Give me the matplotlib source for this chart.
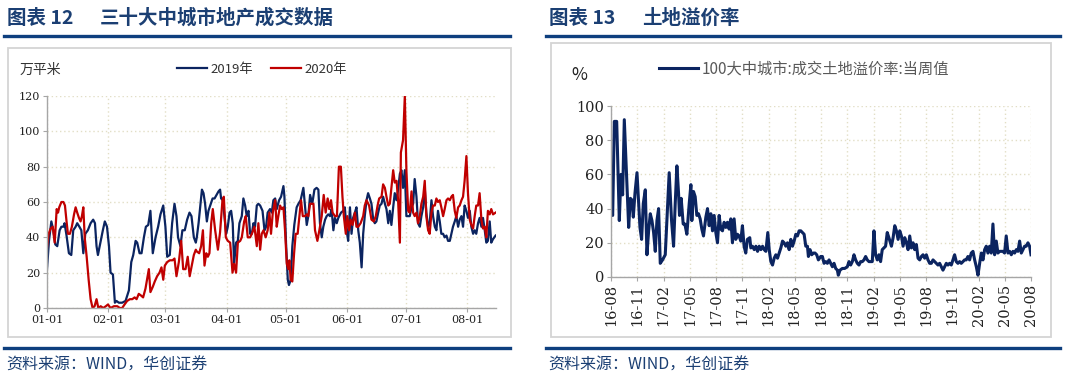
import matplotlib
matplotlib.use("Agg")
import matplotlib.pyplot as plt
from matplotlib.patches import Rectangle
from matplotlib.lines import Line2D

plt.rcParams['font.family'] = ['Noto Sans CJK SC', 'DejaVu Sans']

# ---- left chart: 30 cities transaction area (10k m2), x = days since 01-01
days_2019 = [0, 1.0, 2.2, 3.2, 4.2, 5.2, 6.4, 7.3, 8.3, 8.9, 9.9, 11.1, 12.3, 13.3, 14.5, 15.3, 16.4, 17.4, 18.4, 19.4,
             20.7, 22.1, 23.4, 24.3, 25.1, 25.8, 27.2, 28.3, 29.3, 30.4, 31.4, 32.2, 33.4, 34.4, 35.2, 36.4, 38.1, 39.8, 41.5, 42.7,
             43.7, 44.9, 45.7, 46.9, 47.9, 49.1, 50.1, 51.3, 52.4, 53.6, 55.0, 56.3, 57.5, 58.9, 60.0, 60.9, 62.2, 63.4, 64.6, 65.6,
             66.4, 67.6, 68.6, 69.8, 71.0, 72.2, 73.2, 74.4, 75.4,
             75.9, 76.8, 77.6, 78.5, 79.3, 80.1, 81.0, 81.8, 82.7, 83.9, 84.9, 85.9, 86.9, 87.7, 88.2, 89.1, 89.9, 90.8, 91.6, 92.5,
             93.3, 94.1, 94.8, 95.8, 96.7, 97.5, 98.7, 99.5, 100.4, 101.2, 102.1, 102.9, 103.8, 104.6, 105.4, 106.3, 107.1, 108.0, 109.2, 110.2,
             111.0, 111.8, 113.0, 113.9, 114.7, 115.6, 116.4, 117.6, 118.6, 119.8, 120.3, 121.1, 122.0, 122.6, 123.5, 124.3, 125.3, 126.5, 127.4, 128.5,
             129.9, 130.7, 131.6, 132.4, 133.3, 134.4, 135.5, 136.6, 137.5, 138.3, 139.2, 140.0, 140.9, 141.7, 142.5, 143.4, 144.2, 145.1, 145.9, 146.8,
             147.6, 149.0, 150.1,
             150.9, 151.8, 152.6, 153.5, 154.3, 155.1, 156.0, 156.8, 157.7, 158.5, 159.4, 160.2, 161.0, 161.9, 162.7, 163.6, 164.4, 165.3, 166.1, 166.9,
             167.8, 168.6, 169.5, 170.3, 171.2, 172.0, 172.9, 173.7, 174.5, 175.4, 176.2, 177.1, 177.9, 178.8, 179.6, 180.4, 181.3, 182.1, 183.0, 183.8,
             184.7, 185.5, 186.3, 187.2, 188.0, 188.9, 189.7, 190.6, 191.4, 192.2, 193.1, 193.9, 194.8, 195.6, 196.5, 197.3, 198.1, 199.0, 199.8, 200.7,
             201.5, 202.4, 203.2, 204.1, 204.9, 205.7, 206.6, 207.4, 208.3, 209.1, 210.0, 210.8, 211.6, 212.5, 213.3, 214.2, 215.0, 215.9, 216.7, 217.5,
             218.4, 219.2, 220.1, 220.9, 221.8, 222.6, 223.4, 224.3, 225.1, 226.0, 227.3]
area_2019 = [22, 38, 49, 44, 36, 35, 44, 46, 46, 48, 41, 31, 30, 44, 46, 48, 46, 44, 31, 42,
             44, 48, 50, 48, 35, 30, 38, 44, 49, 46, 35, 20, 19, 3, 4, 3, 3, 4, 10, 26,
             30, 38, 37, 31, 31, 40, 46, 47, 55, 31, 40, 46, 53, 58, 46, 29, 30, 48, 59, 52,
             40, 35, 44, 44, 50, 54, 52, 40, 37,
             40, 48, 57, 67, 65, 59, 49, 55, 58, 62, 62, 64, 66, 67, 62, 61, 52, 42, 46, 54,
             55, 48, 25, 37, 38, 48, 52, 62, 58, 52, 55, 42, 42, 48, 46, 58, 59, 58, 55, 44,
             46, 54, 56, 54, 61, 62, 56, 61, 63, 69, 63, 37, 16, 13, 16, 35, 47, 57, 59, 61,
             68, 58, 47, 52, 64, 59, 67, 68, 67, 48, 40, 46, 50, 52, 53, 52, 56, 44, 51, 48,
             51, 54, 55,
             57, 44, 38, 57, 42, 51, 54, 57, 44, 37, 23, 42, 52, 61, 65, 62, 59, 50, 48, 49,
             54, 58, 59, 63, 59, 56, 48, 55, 47, 57, 65, 61, 67, 76, 78, 68, 78, 52, 52, 52,
             57, 59, 73, 63, 48, 46, 52, 57, 68, 54, 46, 48, 61, 52, 46, 44, 55, 49, 42, 42,
             40, 41, 38, 38, 42, 46, 49, 52, 46, 50, 52, 46, 58, 55, 51, 55, 46, 42, 44, 42,
             48, 51, 46, 51, 44, 37, 38, 49, 37, 39, 41]

days_2020 = [0, 0.8, 1.9, 2.9, 3.9, 4.9, 5.6, 6.2, 7.3, 8.3, 9.1, 9.9, 10.6, 11.6, 12.6, 13.7, 14.5, 15.3, 16.2, 17.0,
             17.7, 18.4, 19.1, 20.1, 21.1, 22.1, 23.1, 24.1, 25.1, 26.0, 27.2, 28.5, 29.8, 30.9, 32.2, 33.9, 35.6, 36.9, 38.1, 39.3,
             40.6, 42.0, 43.2, 44.4, 45.4, 46.5, 47.7, 48.7, 49.9, 50.8, 51.6, 52.4, 53.6, 54.6, 55.8, 57.0, 58.0, 58.9, 59.7, 60.9,
             62.2, 63.6, 64.6, 65.6, 66.8, 68.0, 69.0, 70.2, 71.3, 72.3, 73.5, 74.4, 75.4,
             75.9, 77.1, 78.1, 79.0, 79.8, 80.7, 81.5, 82.3, 83.2, 84.0, 85.2, 86.6, 87.7, 88.9, 89.6, 90.6, 91.6, 92.8, 94.0, 94.8,
             95.8, 96.7, 97.9, 98.7, 99.9, 100.7, 101.7, 102.9, 103.8, 105.1, 106.3, 107.1, 108.0, 108.8, 109.7, 110.8, 111.8, 112.7, 113.5, 114.4,
             115.6, 116.4, 117.2, 118.1, 118.9, 119.8, 120.6, 121.5, 122.3, 122.8, 123.5, 124.3, 125.2, 126.0, 127.0, 127.9, 128.7, 129.6, 130.7, 131.6,
             132.4, 133.3, 134.1, 135.0, 135.8, 137.0, 138.0, 139.2, 140.2, 141.2, 142.2, 143.0, 143.9, 144.7, 145.9, 146.9, 147.9, 148.9,
             149.7, 150.4, 151.4, 152.1, 153.1, 153.8, 154.8, 156.0, 156.8, 157.7, 158.9, 160.2, 161.0, 161.9, 163.2, 164.4, 165.6, 166.6, 167.5, 168.3,
             169.5, 170.3, 171.2, 172.0, 172.9, 173.7, 174.5, 175.4, 176.2, 177.1, 177.9, 178.8, 179.3, 180.4, 181.3, 182.1, 183.0, 183.8, 184.7, 185.5,
             186.3, 187.2, 188.0, 188.9, 189.7, 190.6, 191.4, 192.2, 193.1, 193.9, 194.8, 195.6, 196.5, 197.3, 198.1, 199.0, 199.8, 200.7, 201.5, 202.4,
             203.2, 204.1, 204.9, 205.7, 206.6, 207.4, 208.3, 209.1, 210.0, 210.8, 211.6, 212.5, 213.3, 214.2, 215.0, 215.9, 216.7, 217.5, 218.4, 219.2,
             220.1, 220.9, 221.8, 222.6, 223.4, 224.3, 225.1, 226.0, 227.3]
area_2020 = [34, 42, 45, 46, 37, 56, 54, 57, 60, 60, 58, 49, 42, 42, 46, 53, 57, 54, 51, 49,
             52, 57, 40, 29, 16, 5, 0, 1, 5, 0, 1, 0, 1, 2, 0, 1, 1, 0, 0, 2,
             4, 5, 5, 6, 5, 8, 7, 6, 11, 17, 22, 9, 12, 15, 18, 20, 23, 16, 24, 26,
             27, 27, 28, 18, 26, 38, 22, 22, 29, 18, 25, 30, 33,
             32, 31, 35, 44, 24, 31, 29, 31, 48, 56, 44, 33, 43, 61, 63, 40, 38, 37, 20, 25,
             20, 37, 38, 40, 49, 52, 40, 40, 42, 46, 35, 48, 33, 42, 44, 40, 44, 54, 42, 54,
             61, 46, 52, 58, 56, 57, 44, 25, 22, 27, 16, 15, 31, 42, 42, 52, 61, 52, 52, 53,
             52, 59, 59, 59, 44, 38, 44, 52, 64, 54, 62, 56, 61, 54, 52, 52, 80, 80,
             63, 52, 42, 52, 44, 50, 47, 54, 46, 46, 48, 52, 58, 61, 58, 50, 49, 52, 58, 62,
             63, 70, 68, 63, 58, 59, 68, 78, 71, 72, 61, 37, 88, 95, 120, 78, 55, 54, 66, 54,
             52, 54, 48, 52, 59, 63, 72, 52, 44, 42, 54, 58, 58, 62, 60, 61, 57, 52, 56, 61,
             62, 61, 63, 64, 55, 51, 57, 58, 61, 63, 72, 86, 65, 50, 47, 45, 52, 58, 58, 65,
             50, 45, 46, 40, 55, 53, 56, 53, 54]

left_tick_days = [0, 31, 60, 91, 121, 152, 182, 213]
left_tick_labels = ['01-01', '02-01', '03-01', '04-01', '05-01', '06-01', '07-01', '08-01']

# ---- right chart: land premium rate (%), x = months since 2016-08
premium_month = [0, 0.19, 0.38, 0.65, 0.95, 1.14, 1.33, 1.52, 2.02, 2.21, 2.40, 2.55, 2.74, 2.97, 3.12, 3.31, 3.50, 3.69, 3.92, 4.11,
                 4.30, 4.49, 4.68, 4.87, 5.06, 5.25, 5.44, 5.63, 5.89, 6.20, 6.65, 6.92, 7.15, 7.34, 7.53, 7.72, 7.83, 8.02, 8.25, 8.44,
                 8.67, 8.94, 9.13, 9.24, 9.43, 9.62, 9.81, 10.00, 10.19, 10.38, 10.57, 10.84, 11.03, 11.22, 11.41, 11.60, 11.79, 11.98, 12.17, 12.36,
                 12.55, 12.74, 12.93, 13.12, 13.31, 13.50, 13.69, 13.88, 14.07, 14.26, 14.45, 14.64, 14.83, 15.02, 15.21, 15.40, 15.59, 15.86,
                 15.98, 16.17, 16.37, 16.56, 16.75, 16.94, 17.13, 17.32, 17.51, 17.70, 17.92, 18.08, 18.27, 18.46, 18.65, 18.84, 19.03, 19.22, 19.41, 19.60,
                 19.79, 19.98, 20.17, 20.36, 20.55, 20.74, 20.93, 21.12, 21.31, 21.50, 21.69, 21.88, 22.07, 22.26, 22.45, 22.56, 22.75, 22.94, 23.13, 23.32,
                 23.51, 23.70, 23.97, 24.16, 24.35, 24.54, 24.73, 24.92, 25.11, 25.30, 25.49, 25.68, 25.87, 25.98, 26.17, 26.44, 26.71, 27.01, 27.20, 27.39,
                 27.58, 27.77, 27.96, 28.15, 28.34, 28.53, 28.72, 28.91, 29.10, 29.29, 29.48, 29.67, 29.86, 30.05, 30.24, 30.43, 30.62, 30.81, 31.00, 31.19,
                 31.38, 31.57, 31.76,
                 32.05, 32.24, 32.43, 32.62, 32.81, 33.00, 33.19, 33.38, 33.57, 33.76, 33.95, 34.14, 34.33, 34.52, 34.71, 34.90, 35.09, 35.28, 35.47, 35.66,
                 35.85, 36.04, 36.23, 36.42, 36.61, 36.80, 36.99, 37.18, 37.37, 37.56, 37.75, 37.94, 38.13, 38.32, 38.51, 38.70, 38.89, 39.08, 39.27, 39.46,
                 39.65, 39.84, 40.03, 40.22, 40.41, 40.60, 40.79, 40.98, 41.17, 41.37, 41.56, 41.75, 41.94, 42.13, 42.32, 42.51, 42.70, 42.89, 43.08, 43.27,
                 43.46, 43.65, 43.84, 44.03, 44.22, 44.41, 44.60, 44.79, 44.98, 45.17, 45.37, 45.56, 45.75, 45.94, 46.13, 46.32, 46.51, 46.70, 46.89, 47.08,
                 47.27, 47.46, 47.65, 47.84, 48.00]
premium_rate = [40, 36, 91, 91, 33, 60, 48, 92, 29, 46, 45, 35, 49, 61, 47, 29, 22, 43, 51, 13,
                27, 37, 33, 26, 15, 33, 40, 8, 10, 13, 61, 33, 18, 43, 65, 49, 36, 46, 31, 31,
                25, 43, 54, 33, 50, 47, 36, 37, 34, 28, 24, 35, 40, 30, 37, 27, 36, 26, 20, 36,
                28, 27, 32, 29, 32, 28, 34, 20, 34, 22, 25, 24, 21, 30, 18, 14, 22, 23,
                17, 18, 16, 18, 15, 18, 16, 18, 16, 15, 26, 16, 9, 7, 11, 13, 11, 14, 17, 21,
                20, 18, 20, 16, 22, 18, 21, 25, 24, 27, 27, 26, 25, 18, 18, 12, 16, 13, 14, 14,
                13, 10, 12, 12, 8, 9, 8, 10, 8, 6, 8, 5, 4, 1, 4, 5, 5, 6, 9, 7,
                9, 13, 10, 8, 7, 9, 9, 10, 12, 10, 9, 9, 9, 27, 13, 10, 13, 9, 16, 17,
                18, 26, 23,
                18, 23, 30, 27, 22, 27, 24, 18, 23, 20, 16, 24, 17, 20, 16, 19, 11, 10, 12, 13,
                11, 13, 10, 8, 8, 10, 9, 8, 7, 8, 6, 4, 6, 8, 7, 8, 7, 10, 13, 9,
                8, 9, 8, 9, 10, 10, 12, 10, 14, 15, 10, 6, 1, 8, 14, 10, 16, 18, 14, 18,
                14, 31, 13, 21, 14, 15, 15, 15, 14, 24, 14, 15, 13, 15, 14, 16, 15, 21, 14, 16,
                18, 18, 20, 18, 13]

right_tick_labels = ['16-08', '16-11', '17-02', '17-05', '17-08', '17-11', '18-02', '18-05', '18-08',
                     '18-11', '19-02', '19-05', '19-08', '19-11', '20-02', '20-05', '20-08']

NAVY = '#0B2460'
RED = '#C00000'
HEAD = '#1B3F73'
RULE = '#0E3F7E'
GRID = '#E2DEC6'
SPINE = '#A6A6A6'
TICKFONT = 'DejaVu Serif'

W, H = 1076, 383
fig = plt.figure(figsize=(W / 100, H / 100), dpi=100)


def fx(x):
    return x / W


def fy(y):
    return 1 - y / H


# headers, rules, source notes
for x0, x1, num, title in [(6, 510, '图表 12', '三十大中城市地产成交数据'),
                           (548, 1060, '图表 13', '土地溢价率')]:
    fig.text(fx(x0 + 1), fy(18), num, fontsize=14, fontweight='bold', color=HEAD, va='center')
    fig.text(fx(x0 + 94), fy(18), title, fontsize=14, fontweight='bold', color=HEAD, va='center')
    fig.add_artist(Line2D([fx(x0 - 2), fx(x1)], [fy(35.5), fy(35.5)], color=RULE, lw=2.4))
    fig.add_artist(Line2D([fx(x0 - 2), fx(x1)], [fy(348), fy(348)], color=RULE, lw=2.4))
    fig.text(fx(x0), fy(365), '资料来源：WIND，华创证券', fontsize=11.5, color=HEAD, va='center')

# chart frames
fig.add_artist(Rectangle((fx(8), fy(337)), fx(511 - 8), (337 - 48) / H, fill=False, ec='#D4D4D4', lw=1.3))
fig.add_artist(Rectangle((fx(551), fy(337)), fx(1051 - 551), (337 - 43) / H, fill=False, ec='#D4D4D4', lw=1.3))


def style_axes(ax, fontsize):
    for side in ['top', 'right']:
        ax.spines[side].set_visible(False)
    for side in ['left', 'bottom']:
        ax.spines[side].set_color(SPINE)
        ax.spines[side].set_linewidth(1.0)
    ax.tick_params(direction='out', length=3, color=SPINE, labelsize=fontsize, labelcolor='#222222', pad=2)
    for lab in ax.get_xticklabels() + ax.get_yticklabels():
        lab.set_family(TICKFONT)
    ax.grid(True, color=GRID, linestyle=(0, (1, 2)), linewidth=1.0)
    ax.set_axisbelow(True)


# left chart
ax1 = fig.add_axes([fx(47), fy(308), fx(496 - 47), (308 - 96) / H])
ax1.plot(days_2019, area_2019, color=NAVY, lw=1.6, label='2019年')
ax1.plot(days_2020, area_2020, color=RED, lw=1.6, label='2020年')
ax1.set_xlim(0, 227.5)
ax1.set_ylim(0, 120)
ax1.set_yticks(range(0, 121, 20))
ax1.set_xticks(left_tick_days)
ax1.set_xticklabels(left_tick_labels)
style_axes(ax1, 8)
fig.text(fx(20), fy(70), '万平米', fontsize=10, color='#333333', va='center')
ax1.legend(loc='center', bbox_to_anchor=(fx(262), fy(69)), bbox_transform=fig.transFigure, ncol=2,
           frameon=False, fontsize=9.5, handlelength=2.3, handletextpad=0.3, columnspacing=1.3,
           labelcolor='#333333')

# right chart
ax2 = fig.add_axes([fx(611), fy(277), fx(1031 - 611), (277 - 106) / H])
ax2.plot(premium_month, premium_rate, color=NAVY, lw=2.2, label='100大中城市:成交土地溢价率:当周值')
ax2.set_xlim(0, 48)
ax2.set_ylim(0, 100)
ax2.set_yticks(range(0, 101, 20))
ax2.set_xticks(range(0, 49, 3))
ax2.set_xticklabels(right_tick_labels, rotation=90)
style_axes(ax2, 10.5)
fig.text(fx(571), fy(75), '%', fontsize=12.5, color='#222222', va='center')
ax2.legend(loc='center left', bbox_to_anchor=(fx(645), fy(69)), bbox_transform=fig.transFigure,
           frameon=False, fontsize=11, handlelength=2.6, handletextpad=0.2, labelcolor='#595959')

fig.savefig('out.png', dpi=100)
